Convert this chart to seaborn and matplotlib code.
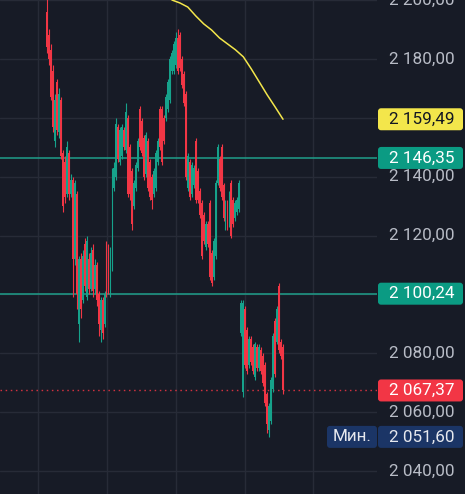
import numpy as np
import seaborn as sns
import matplotlib
matplotlib.use("Agg")
import matplotlib.pyplot as plt
import matplotlib.transforms as mtransforms
from matplotlib.patches import FancyBboxPatch

# --- данные свечей (цены читаем с картинки) ---
opens = [2196, 2188, 2183, 2176, 2152, 2172, 2155, 2166, 2148, 2145,
         2134, 2148, 2134, 2139, 2112, 2134, 2090, 2112, 2098, 2117,
         2099, 2112, 2102, 2115, 2102, 2110, 2100, 2088, 2098, 2090,
         2117, 2116, 2100, 2110, 2136, 2140, 2157, 2145, 2147, 2156,
         2149, 2160, 2150, 2142, 2130, 2136, 2143, 2163, 2159, 2153,
         2141, 2152, 2145, 2140, 2134, 2136, 2145, 2163, 2163, 2160,
         2160, 2163, 2166, 2176, 2176, 2178, 2187, 2188, 2180, 2175,
         2168, 2136, 2145, 2134, 2137, 2152, 2142, 2135, 2131, 2127,
         2116, 2124, 2131, 2114, 2106, 2113, 2138, 2146, 2150, 2137,
         2123, 2131, 2124, 2138, 2132, 2126, 2128, 2129, 2087, 2067,
         2095, 2088, 2076, 2085, 2082, 2072, 2082, 2075, 2081, 2079,
         2076, 2066, 2054, 2057, 2068, 2091, 2084, 2103, 2084, 2082]
closes = [2184, 2180, 2167, 2157, 2166, 2156, 2168, 2147, 2130, 2133,
          2150, 2134, 2139, 2112, 2138, 2100, 2112, 2095, 2113, 2103,
          2118, 2102, 2114, 2101, 2110, 2098, 2090, 2098, 2087, 2100,
          2100, 2101, 2115, 2142, 2143, 2158, 2146, 2156, 2157, 2150,
          2162, 2134, 2134, 2124, 2138, 2144, 2152, 2150, 2148, 2140,
          2154, 2136, 2133, 2132, 2142, 2148, 2152, 2150, 2145, 2152,
          2167, 2172, 2180, 2182, 2185, 2187, 2176, 2177, 2171, 2165,
          2140, 2147, 2133, 2144, 2143, 2132, 2132, 2127, 2113, 2118,
          2124, 2117, 2106, 2104, 2118, 2138, 2150, 2136, 2133, 2126,
          2131, 2123, 2134, 2120, 2124, 2131, 2132, 2138, 2097, 2097,
          2076, 2074, 2085, 2077, 2074, 2083, 2075, 2082, 2074, 2070,
          2063, 2056, 2062, 2071, 2086, 2073, 2095, 2081, 2079, 2067.37]
highs = [2205, 2190, 2185, 2178, 2168, 2173, 2170, 2167, 2149, 2147,
         2152, 2149, 2141, 2140, 2139, 2135, 2113, 2114, 2115, 2119,
         2120, 2114, 2116, 2117, 2112, 2111, 2101, 2099, 2099, 2101,
         2118, 2117, 2116, 2143, 2145, 2160, 2158, 2157, 2158, 2157,
         2165, 2161, 2151, 2143, 2139, 2145, 2153, 2164, 2160, 2154,
         2155, 2153, 2146, 2141, 2143, 2149, 2153, 2164, 2164, 2161,
         2168, 2173, 2181, 2183, 2186, 2189, 2190, 2189, 2181, 2176,
         2169, 2148, 2146, 2145, 2144, 2153, 2143, 2136, 2132, 2128,
         2125, 2125, 2132, 2115, 2119, 2139, 2151, 2147, 2151, 2138,
         2132, 2132, 2135, 2139, 2133, 2132, 2133, 2139, 2098, 2098,
         2096, 2089, 2086, 2086, 2083, 2084, 2083, 2083, 2082, 2080,
         2077, 2067, 2063, 2072, 2087, 2092, 2096, 2104, 2085, 2083]
lows = [2182, 2178, 2166, 2155, 2150, 2154, 2153, 2146, 2128, 2131,
        2133, 2132, 2133, 2099, 2110, 2095, 2084, 2092, 2097, 2101,
        2098, 2100, 2101, 2099, 2100, 2096, 2086, 2084, 2085, 2089,
        2099, 2100, 2099, 2108, 2135, 2139, 2145, 2144, 2146, 2149,
        2148, 2133, 2132, 2122, 2129, 2135, 2142, 2149, 2147, 2139,
        2140, 2135, 2132, 2129, 2133, 2135, 2144, 2149, 2144, 2151,
        2159, 2162, 2165, 2175, 2175, 2177, 2175, 2176, 2170, 2164,
        2139, 2135, 2132, 2133, 2136, 2131, 2131, 2126, 2112, 2117,
        2115, 2116, 2105, 2103, 2105, 2112, 2137, 2135, 2132, 2125,
        2122, 2122, 2123, 2119, 2123, 2125, 2127, 2128, 2086, 2065,
        2075, 2073, 2075, 2076, 2073, 2071, 2074, 2074, 2073, 2069,
        2062, 2053, 2051.6, 2056, 2067, 2072, 2083, 2080, 2078, 2066]

# скользящая средняя (жёлтая линия)
ma_idx = [63, 67, 71, 75, 79, 83, 87, 91, 95, 99, 103, 107, 111, 115, 119]
ma_vals = [2200.0, 2199.0, 2197.6, 2194.6, 2191.9, 2189.8, 2187.1, 2185.1,
           2183.1, 2180.7, 2176.6, 2172.2, 2167.8, 2163.7, 2159.5]

# уровни
level_hi = 2146.35
level_lo = 2100.24
last_price = 2067.37
ma_last = 2159.49
min_price = 2051.60

tick_values = [2200, 2180, 2160, 2140, 2120, 2100, 2080, 2060, 2040]
hidden_ticks = [2160, 2100]

# цвета
BG = "#171b26"
GRID = "#272b37"
UP = "#16a28b"
DOWN = "#f23645"
LEVEL = "#1f9e8a"
YELLOW = "#f3e64b"
TICK_TXT = "#b8bcc6"
BLUE = "#1b3566"


def fmt(v):
    s = f"{v:,.2f}"
    return s.replace(",", " ").replace(".", ",")


sns.set_theme(style="dark", rc={"axes.facecolor": BG, "figure.facecolor": BG})
plt.rcParams["font.family"] = ["Roboto", "DejaVu Sans"]

fig = plt.figure(figsize=(4.65, 4.94), dpi=100)
ax = fig.add_axes([0, 0, 377 / 465, 1])
ax.set_facecolor(BG)

x = np.arange(len(opens))
o = np.array(opens)
c = np.array(closes)
colors = [UP if cc >= oo else DOWN for oo, cc in zip(o, c)]

# свечи
ax.vlines(x, lows, highs, colors=colors, linewidth=0.8, zorder=3)
ax.bar(x, np.abs(c - o), bottom=np.minimum(o, c), width=0.95,
       color=colors, linewidth=0, zorder=4)

# скользящая средняя
sns.lineplot(x=ma_idx, y=ma_vals, color=YELLOW, linewidth=1.1, ax=ax,
             zorder=5)

# горизонтальные уровни
ax.axhline(level_hi, color=LEVEL, linewidth=1.1, zorder=2)
ax.axhline(level_lo, color=LEVEL, linewidth=1.1, zorder=2)
ax.axhline(last_price, color=DOWN, linewidth=1.0, linestyle=(0, (1.1, 2.6)),
           alpha=0.85, zorder=2)

# оси
ax.set_xlim(-23.7, 166.4)
ax.set_ylim(2032.2, 2199.66)
ax.set_xticks(np.arange(-4.5, 166, 34.7))
ax.set_xticklabels([])
ax.set_yticks(tick_values)
ax.set_yticklabels([])
ax.tick_params(length=0)
ax.grid(True, color=GRID, linewidth=1.0)
ax.set_axisbelow(True)
for sp in ax.spines.values():
    sp.set_visible(False)
ax.set_xlabel("")
ax.set_ylabel("")

fig.canvas.draw()


def ypix(v):
    return ax.transData.transform((0, v))[1]


# подписи шкалы
for v in tick_values:
    if v in hidden_ticks:
        continue
    fig.text(389 / 465, ypix(v) / 494, fmt(v), ha="left", va="center",
             fontsize=12.3, color=TICK_TXT)


def price_box(v, face, txt_color, x0=378, w=85, text=None, tx=389, ha="left"):
    yp = ypix(v)
    box = FancyBboxPatch((x0, yp - 11), w, 22,
                         boxstyle="round,pad=0,rounding_size=3",
                         facecolor=face, edgecolor="none",
                         transform=mtransforms.IdentityTransform(), zorder=10)
    fig.patches.append(box)
    fig.text(tx / 465, yp / 494, text if text else fmt(v), ha=ha,
             va="center", fontsize=12.3, color=txt_color, zorder=11)


price_box(ma_last, YELLOW, "#131722")
price_box(level_hi, "#0b9b83", "#ffffff")
price_box(level_lo, "#0b9b83", "#ffffff")
price_box(last_price, DOWN, "#ffffff")
price_box(min_price, BLUE, "#e6e8ee")
price_box(min_price, BLUE, "#e6e8ee", x0=327, w=50, text="Мин.", tx=352,
          ha="center")

fig.savefig("out.png", dpi=100, facecolor=BG)
